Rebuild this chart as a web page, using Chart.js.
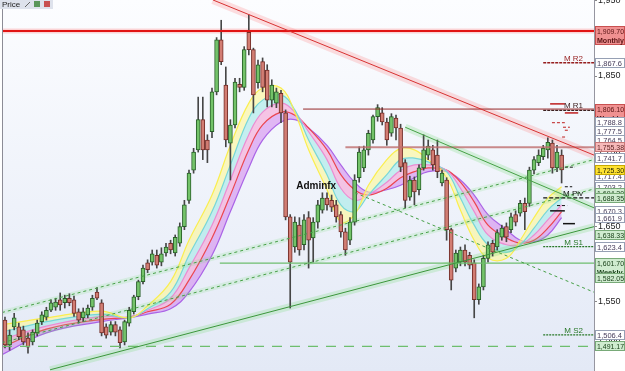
<!DOCTYPE html>
<html>
<head>
<meta charset="utf-8">
<script src="https://cdn.jsdelivr.net/npm/chart.js@4.4.1/dist/chart.umd.min.js"></script>
<style>
html, body { margin: 0; padding: 0; background: #fff; }
#cadre { width: 625px; height: 371px; }
</style>
</head>
<body>
<div id="cadre"><canvas id="myChart" width="625" height="371"></canvas></div>
<script>
// bougies (index = numero de la bougie)
const ouverture = [1526,1493,1517,1517,1513,1502,1497,1509,1524,1530,
  1539,1543,1553,1549,1555,1553,1537,1529,1533,1543,
  1563,1549,1517,1510,1520,1513,1497,1522,1537,1557,
  1577,1602,1603,1612,1603,1615,1628,1615,1628,1650,
  1685,1725,1752,1792,1765,1776,1829,1898,1838,1761,
  1785,1839,1835,1908,1885,1841,1869,1858,1818,1814,
  1827,1801,1663,1623,1652,1626,1662,1635,1656,1672,
  1688,1685,1679,1666,1643,1632,1656,1715,1728,1752,
  1765,1796,1801,1789,1774,1794,1781,1735,1689,1712,
  1699,1728,1745,1752,1745,1708,1712,1646,1595,1603,
  1619,1612,1602,1553,1570,1608,1628,1623,1636,1650,
  1646,1666,1668,1681,1681,1725,1735,1743,1752,1761,
  1728,1745];
const cloture = [1493,1506,1529,1504,1497,1490,1510,1522,1533,1539,
  1549,1550,1546,1555,1549,1535,1526,1537,1542,1555,
  1555,1509,1506,1520,1510,1496,1524,1539,1557,1577,
  1595,1593,1614,1599,1614,1623,1619,1636,1650,1679,
  1721,1749,1792,1752,1752,1829,1898,1869,1765,1785,
  1842,1835,1885,1885,1825,1865,1835,1818,1838,1829,
  1801,1663,1603,1656,1619,1659,1632,1656,1679,1688,
  1679,1676,1663,1643,1619,1656,1712,1749,1752,1774,
  1796,1808,1789,1765,1796,1781,1729,1685,1712,1696,
  1728,1752,1757,1732,1723,1721,1646,1579,1615,1619,
  1603,1599,1553,1570,1608,1626,1616,1642,1648,1636,
  1663,1656,1681,1670,1725,1739,1745,1754,1762,1728,
  1749,1725.3];
const haut = [1530,1513,1535,1522,1518,1509,1513,1526,1537,1543,
  1553,1555,1562,1559,1561,1558,1541,1542,1546,1559,
  1569,1553,1521,1524,1524,1517,1526,1543,1559,1579,
  1599,1606,1619,1619,1622,1628,1632,1639,1655,1685,
  1725,1754,1822,1822,1772,1834,1901,1924,1862,1792,
  1847,1847,1889,1931,1887,1871,1874,1865,1845,1834,
  1831,1805,1666,1663,1662,1666,1670,1662,1685,1695,
  1695,1692,1685,1670,1648,1662,1719,1756,1757,1778,
  1798,1812,1808,1794,1800,1798,1786,1739,1717,1716,
  1732,1772,1765,1758,1765,1725,1715,1648,1619,1623,
  1626,1616,1606,1574,1612,1630,1632,1646,1652,1655,
  1668,1671,1685,1688,1729,1743,1752,1758,1768,1765,
  1758,1752];
const bas = [1489,1486,1513,1500,1493,1482,1493,1505,1520,1526,
  1537,1539,1539,1542,1545,1531,1522,1524,1529,1539,
  1553,1505,1502,1506,1505,1489,1493,1518,1534,1553,
  1574,1589,1599,1595,1598,1611,1614,1611,1624,1646,
  1681,1721,1749,1739,1735,1768,1825,1865,1756,1712,
  1781,1829,1831,1878,1801,1834,1829,1809,1809,1808,
  1788,1659,1542,1616,1612,1619,1595,1603,1648,1668,
  1672,1670,1656,1636,1612,1626,1652,1709,1723,1745,
  1761,1790,1785,1758,1770,1765,1723,1675,1685,1679,
  1692,1725,1739,1725,1715,1704,1632,1566,1590,1598,
  1598,1594,1529,1547,1566,1603,1611,1619,1632,1630,
  1642,1651,1664,1646,1677,1720,1731,1739,1741,1721,
  1723,1708];

// ruban de moyennes mobiles
const rubanIdx = [-0.65,9,21,27,31,36,40,45,49,53,56,60,63,66,70,73,76,79,83,86,89,92,96,99,102,105,109,112,115,118,121];
const mmJaune = [1520,1529,1538,1529,1545,1577,1632,1692,1758,1814,1834,1834,1802,1752,1699,1656,1666,1705,1739,1754,1752,1739,1715,1672,1632,1608,1608,1632,1662,1688,1703];
const mmCyan = [1510,1524,1534,1529,1541,1563,1612,1670,1732,1794,1818,1825,1805,1765,1719,1679,1670,1692,1719,1739,1741,1736,1723,1688,1652,1626,1616,1626,1648,1672,1688];
const mmRose = [1500,1518,1531,1530,1539,1555,1595,1652,1712,1772,1802,1814,1802,1776,1739,1701,1685,1692,1709,1725,1732,1732,1725,1701,1670,1639,1626,1626,1639,1659,1679];
const mmRouge = [1490,1514,1527,1530,1537,1547,1579,1635,1692,1752,1785,1802,1798,1781,1752,1719,1699,1692,1701,1715,1723,1728,1725,1709,1683,1652,1635,1628,1632,1648,1670];
const mmViolet = [1480,1509,1524,1529,1534,1541,1563,1612,1670,1728,1765,1789,1792,1781,1758,1732,1709,1696,1699,1705,1715,1723,1723,1712,1692,1666,1646,1632,1630,1639,1662];

// lignes de tendance [index, prix]
const tendanceRouge = [[45.2, 1951], [128.04, 1745]];
const tendanceVerteBaisse = [[87, 1782], [128.04, 1675]];
const tendanceVerteBaisse2 = [[76.1, 1695], [128.04, 1563]];
const canalHaut = [[-0.65, 1536], [128.04, 1739]];
const canalMilieu = [[-0.65, 1496], [128.04, 1700]];
const canalBas = [[9.8, 1460], [128.04, 1650]];

// niveaux horizontaux
const niveauMensuel = 1909.70;
const niveauHebdo = 1806.10;
const niveauJour = 1755.38;
const niveauHebdoBas = 1601.70;
const niveauTirets = 1491.17;
const debutHebdo = 64.8, debutJour = 74, debutHebdoBas = 46.7;

const pivotNoms = ['M R2', 'M R1', 'M Piv', 'M S1', 'M S2'];
const pivotNiveaux = [1867.6, 1804.5, 1688.35, 1623.4, 1506.4];

const petitsNiveaux = [1813, 1801, 1788, 1782, 1778, 1769, 1729, 1703, 1678, 1671, 1654];
const petitsDebut = [118.5, 121.7, 118.9, 121.3, 121.7, 121.1, 121.7, 121.7, 120, 118.5, 121.3];
const petitsFin = [121.7, 124.6, 121.7, 122.8, 122.8, 122.2, 123.9, 123.3, 122.2, 121.7, 123.9];
const petitsType = ['r', 'r', 'rt', 'rt', 'rt', 'rt', 'nt', 'nt', 'nt', 'n', 'n'];

// axe de droite
const graduations = [1500, 1550, 1600, 1650, 1700, 1750, 1800, 1850, 1900, 1950];
const etiqPrix = [1909.70, 1867.6, 1806.10, 1777.5, 1788.8, 1764.5, 1755.38, 1741.7, 1717.4, 1725.30, 1703.2, 1694.3, 1688.35, 1670.3, 1661.9, 1638.33, 1623.4, 1601.70, 1582.05, 1506.4, 1491.17];
const etiqTextes = ['1,909.70', '1,867.6', '1,806.10', '1,777.5', '1,788.8', '1,764.5', '1,755.38', '1,741.7', '1,717.4', '1,725.30', '1,703.2', '1,694.30', '1,688.35', '1,670.3', '1,661.9', '1,638.33', '1,623.4', '1,601.70', '1,582.05', '1,506.4', '1,491.17'];
const etiqSous = ['Monthly', '', 'Weekly', '', '', '', '', '', '', '', '', '', '', '', '', '', '', 'Weekly', '', '', ''];
const etiqType = ['rouge', 'blanc', 'rouge', 'blanc', 'blanc', 'blanc', 'rose', 'blanc', 'blanc', 'jaune', 'blanc', 'vert', 'vert', 'blanc', 'blanc', 'vert', 'blanc', 'vert', 'vert', 'blanc', 'vert'];

const xMin = -0.65, xMax = 128.04;
const police = '"Liberation Sans", Arial, sans-serif';

function ligne(points, couleur, epaisseur, tirets, ordre) {
    return {
        type: 'line',
        data: points.map(p => ({ x: p[0], y: p[1] })),
        borderColor: couleur,
        borderWidth: epaisseur,
        borderDash: tirets || [],
        pointRadius: 0,
        fill: false,
        tension: 0,
        order: ordre === undefined ? 0 : ordre
    };
}

function ruban(valeurs, couleur, remplissage, fill) {
    return {
        type: 'line',
        data: valeurs.map((v, i) => ({ x: rubanIdx[i], y: v })),
        borderColor: couleur,
        borderWidth: 1.2,
        backgroundColor: remplissage,
        fill: fill,
        pointRadius: 0,
        tension: 0.4,
        order: 10
    };
}

const datasets = [
    ruban(mmJaune, 'rgb(250,238,80)', 'transparent', false),
    ruban(mmCyan, 'rgb(120,215,215)', 'rgba(255,248,140,0.55)', '-1'),
    ruban(mmRose, 'rgb(235,140,210)', 'rgba(150,232,228,0.5)', '-1'),
    ruban(mmRouge, 'rgb(235,70,80)', 'rgba(245,155,210,0.55)', '-1'),
    ruban(mmViolet, 'rgb(170,100,230)', 'rgba(205,120,235,0.5)', '-1')
];

// halos puis lignes
datasets.push(ligne(tendanceRouge, 'rgba(255,110,110,0.22)', 8, null, 6));
datasets.push(ligne(tendanceVerteBaisse, 'rgba(120,220,120,0.25)', 7, null, 6));
datasets.push(ligne(canalBas, 'rgba(120,220,120,0.25)', 7, null, 6));
datasets.push(ligne(canalHaut, 'rgba(120,220,120,0.18)', 5, null, 6));
datasets.push(ligne(canalMilieu, 'rgba(120,220,120,0.18)', 5, null, 6));
datasets.push(ligne([[xMin, niveauMensuel], [xMax, niveauMensuel]], 'rgba(255,120,120,0.3)', 5, null, 6));

datasets.push(ligne(tendanceRouge, 'rgb(215,50,50)', 1));
datasets.push(ligne(tendanceVerteBaisse, 'rgb(70,160,70)', 1));
datasets.push(ligne(tendanceVerteBaisse2, 'rgb(70,160,70)', 1, [3, 3]));
datasets.push(ligne(canalHaut, 'rgb(70,160,70)', 1, [3, 3]));
datasets.push(ligne(canalMilieu, 'rgb(70,160,70)', 1, [3, 3]));
datasets.push(ligne(canalBas, 'rgb(60,150,60)', 1));
datasets.push(ligne([[xMin, niveauMensuel], [xMax, niveauMensuel]], 'rgb(225,20,20)', 2));
datasets.push(ligne([[debutHebdo, niveauHebdo], [xMax, niveauHebdo]], 'rgb(150,40,40)', 1));
datasets.push(ligne([[debutJour, niveauJour], [xMax, niveauJour]], 'rgba(190,110,110,0.8)', 2));
datasets.push(ligne([[debutHebdoBas, niveauHebdoBas], [xMax, niveauHebdoBas]], 'rgb(110,190,110)', 1.2));
datasets.push(ligne([[xMin, niveauTirets], [xMax, niveauTirets]], 'rgb(110,190,110)', 1.2, [10, 8]));

const couleursPivot = ['rgb(150,30,30)', 'rgb(60,30,30)', 'rgb(20,20,20)', 'rgb(40,120,40)', 'rgb(40,120,40)'];
const tiretsPivot = [[3, 1], [3, 1], [4, 2], [2, 1], [2, 1]];
pivotNiveaux.forEach((niv, k) => {
    datasets.push(ligne([[117, niv], [xMax, niv]], couleursPivot[k], 1.3, tiretsPivot[k]));
});

petitsNiveaux.forEach((niv, k) => {
    const t = petitsType[k];
    const coul = t[0] === 'r' ? 'rgb(190,30,30)' : 'rgb(20,20,20)';
    const tirets = t.length > 1 ? [3, 2] : [];
    datasets.push(ligne([[petitsDebut[k], niv], [petitsFin[k], niv]], coul, t.length > 1 ? 1 : 1.5, tirets));
});

// meches et corps des bougies
const hausse = cloture.map((c, i) => c >= ouverture[i]);
datasets.push({
    type: 'bar',
    data: haut.map((h, i) => ({ x: i, y: [bas[i], h] })),
    backgroundColor: 'rgb(70,70,70)',
    barThickness: 1,
    grouped: false,
    order: 2
});
datasets.push({
    type: 'bar',
    data: ouverture.map((o, i) => ({ x: i, y: [o, cloture[i]] })),
    backgroundColor: hausse.map(h => h ? 'rgb(115,195,105)' : 'rgb(210,125,115)'),
    borderColor: hausse.map(h => h ? 'rgb(40,95,40)' : 'rgb(115,45,40)'),
    borderWidth: 1,
    borderSkipped: false,
    barThickness: 4,
    minBarLength: 2,
    grouped: false,
    order: 1
});

const stylesEtiq = {
    rouge: ['rgb(240,145,145)', 'rgb(200,80,80)', 'rgb(90,20,20)'],
    rose: ['rgb(246,185,185)', 'rgb(200,120,120)', 'rgb(90,30,30)'],
    blanc: ['rgb(255,255,255)', 'rgb(150,160,180)', 'rgb(70,60,90)'],
    jaune: ['rgb(255,226,50)', 'rgb(200,170,0)', 'rgb(30,30,0)'],
    vert: ['rgb(208,236,208)', 'rgb(120,170,120)', 'rgb(20,60,20)']
};

const decor = {
    id: 'decor',
    beforeDraw(chart) {
        const { ctx, chartArea: a } = chart;
        ctx.save();
        ctx.fillStyle = '#fff';
        ctx.fillRect(0, 0, chart.width, chart.height);
        const g = ctx.createLinearGradient(0, a.top, 0, a.bottom);
        g.addColorStop(0, '#fcfdff');
        g.addColorStop(1, '#e3e9f6');
        ctx.fillStyle = g;
        ctx.fillRect(a.left, a.top, a.right - a.left, a.bottom - a.top);
        ctx.restore();
    },
    afterDatasetsDraw(chart) {
        const { ctx, scales: { x, y }, chartArea: a } = chart;
        ctx.save();
        // noms des pivots
        ctx.font = '8px ' + police;
        ctx.textAlign = 'right';
        pivotNoms.forEach((nom, k) => {
            ctx.fillStyle = couleursPivot[k];
            ctx.fillText(nom, a.right - 11, y.getPixelForValue(pivotNiveaux[k]) - 2);
        });
        // signature
        ctx.textAlign = 'left';
        ctx.fillStyle = '#111';
        ctx.font = 'bold 10px ' + police;
        ctx.fillText('Adminfx', x.getPixelForValue(63.3), y.getPixelForValue(1700));
        ctx.restore();
    },
    afterDraw(chart) {
        const { ctx, scales: { y }, chartArea: a } = chart;
        ctx.save();
        // bord gauche
        ctx.strokeStyle = 'rgb(140,140,150)';
        ctx.lineWidth = 1;
        ctx.beginPath();
        ctx.moveTo(a.left + 0.5, 0);
        ctx.lineTo(a.left + 0.5, a.bottom);
        ctx.stroke();
        // onglet Price
        ctx.fillStyle = 'rgb(222,226,236)';
        ctx.fillRect(0, 0, 53, 9);
        ctx.fillStyle = '#222';
        ctx.font = '8px ' + police;
        ctx.textAlign = 'left';
        ctx.fillText('Price', 2, 7);
        ctx.fillStyle = 'rgb(90,150,90)';
        ctx.fillRect(34, 1, 6, 6);
        ctx.fillStyle = 'rgb(200,80,80)';
        ctx.fillRect(44, 1, 6, 6);
        ctx.strokeStyle = '#666';
        ctx.beginPath();
        ctx.moveTo(25, 7); ctx.lineTo(30, 2);
        ctx.stroke();
        // etiquettes de prix
        const x0 = a.right + 1, w = 30;
        etiqPrix.forEach((p, k) => {
            const yy = Math.round(y.getPixelForValue(p));
            const s = stylesEtiq[etiqType[k]];
            const h = etiqSous[k] ? 19 : 10;
            ctx.fillStyle = s[0];
            ctx.fillRect(x0, yy - 5, w, h);
            ctx.strokeStyle = s[1];
            ctx.strokeRect(x0 + 0.5, yy - 4.5, w - 1, h - 1);
            ctx.fillStyle = s[2];
            ctx.font = '7.5px ' + police;
            ctx.fillText(etiqTextes[k], x0 + 2, yy + 3, w - 3);
            if (etiqSous[k]) {
                ctx.font = 'bold 7.5px ' + police;
                ctx.fillText(etiqSous[k], x0 + 2, yy + 12, w - 3);
            }
        });
        ctx.restore();
    }
};

const ctx = document.getElementById('myChart').getContext('2d');
const myChart = new Chart(ctx, {
    type: 'bar',
    data: { datasets: datasets },
    options: {
        responsive: false,
        animation: false,
        devicePixelRatio: 1,
        layout: { padding: { left: 2, right: 0, top: 0, bottom: 0 } },
        plugins: {
            legend: { display: false },
            tooltip: { enabled: false }
        },
        scales: {
            x: {
                type: 'linear',
                min: xMin,
                max: xMax,
                offset: false,
                display: false
            },
            y: {
                position: 'right',
                min: 1458.4,
                max: 1950.9,
                afterBuildTicks: scale => { scale.ticks = graduations.map(v => ({ value: v })); },
                afterFit: scale => {
                    scale.width = 31;
                    scale.paddingTop = 0;
                    scale.paddingBottom = 0;
                },
                ticks: {
                    padding: 1,
                    color: '#222',
                    font: { size: 9, family: police },
                    callback: v => v.toLocaleString('en-US')
                },
                grid: { drawOnChartArea: false, tickLength: 3, color: '#888' },
                border: { display: true, color: 'rgb(150,150,160)' }
            }
        }
    },
    plugins: [decor]
});
</script>
</body>
</html>
